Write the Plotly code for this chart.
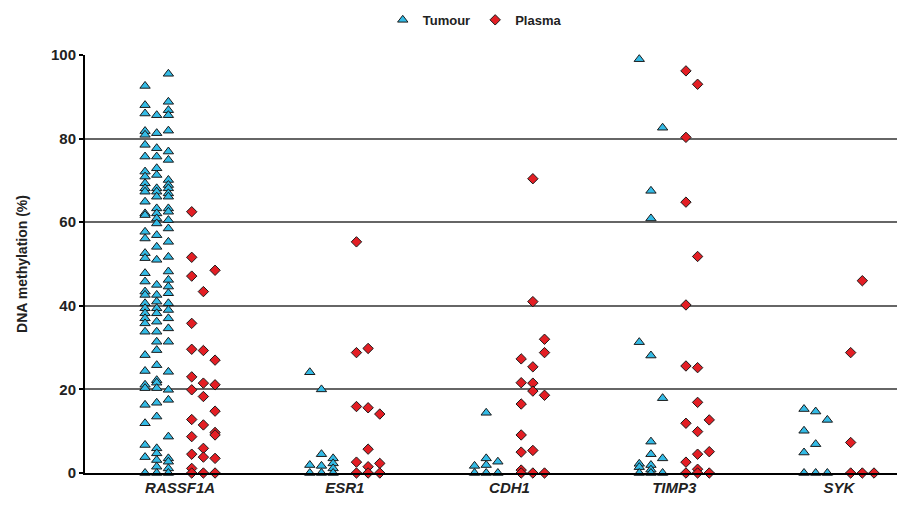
import plotly.graph_objects as go

genes = ["RASSF1A", "ESR1", "CDH1", "TIMP3", "SYK"]

# Tumour values, three sub-columns per gene
rassf1a_tumour = [
    [92.6, 88.0, 86.0, 81.8, 80.9, 78.5, 75.7, 72.1, 70.9, 69.3, 68.1, 67.3, 64.9, 62.1, 61.7,
     57.7, 56.1, 52.6, 51.4, 47.8, 45.8, 43.4, 42.6, 40.6, 39.4, 38.2, 37.0, 35.8, 33.8, 28.2,
     24.4, 21.1, 20.3, 16.3, 11.9, 6.7, 3.8, 0.0],
    [85.6, 81.3, 77.7, 75.7, 72.9, 71.3, 68.1, 67.3, 66.1, 63.3, 62.1, 60.9, 59.7, 56.9, 54.1,
     51.0, 45.0, 42.6, 41.0, 39.4, 38.2, 36.2, 33.8, 31.4, 29.4, 25.8, 22.2, 21.6, 20.3, 16.8,
     13.5, 5.9, 4.7, 3.1, 1.5, 0.0],
    [95.5, 88.8, 86.8, 85.6, 81.9, 76.9, 74.9, 70.1, 68.9, 68.1, 66.9, 66.1, 63.3, 62.5, 60.5,
     58.5, 55.3, 51.7, 48.2, 46.2, 44.6, 43.0, 40.6, 39.0, 37.0, 34.6, 31.4, 24.2, 19.9, 17.5,
     8.7, 3.5, 2.7, 1.1, 0.0],
]
esr1_tumour = [[24.1, 1.9, 0.0], [20.0, 4.5, 1.7, 0.0], [3.5, 2.3, 1.1, 0.0]]
cdh1_tumour = [[1.7, 0.0], [14.4, 3.5, 1.9, 0.0], [2.7, 0.0]]
timp3_tumour = [[99.0, 31.3, 2.2, 1.4, 0.0], [67.5, 60.9, 28.1, 7.5, 4.5, 1.9, 0.8, 0.0],
                [82.6, 17.9, 3.5, 0.0]]
syk_tumour = [[15.3, 10.1, 4.9, 0.0], [14.7, 6.9, 0.0], [12.7, 0.0]]

# Plasma values, three sub-columns per gene
rassf1a_plasma = [[62.5, 51.6, 47.1, 35.8, 29.6, 23.0, 19.9, 12.8, 8.7, 4.5, 1.1, 0.0],
                  [43.4, 29.3, 21.5, 18.3, 11.5, 5.9, 3.8, 0.0],
                  [48.5, 27.0, 21.1, 14.8, 9.7, 9.1, 3.5, 0.0]]
esr1_plasma = [[55.3, 28.8, 15.9, 2.6, 0.0], [29.8, 15.6, 5.7, 1.5, 0.0], [14.1, 2.3, 0.0]]
cdh1_plasma = [[27.3, 21.6, 16.5, 9.1, 5.0, 0.7, 0.0], [70.4, 41.0, 25.4, 21.5, 19.6, 5.4, 0.0],
               [32.0, 28.8, 18.6, 0.0]]
timp3_plasma = [[96.2, 80.3, 64.8, 40.2, 25.6, 11.9, 2.6, 0.0],
                [93.0, 51.8, 25.2, 16.9, 9.9, 4.5, 0.9, 0.0],
                [12.7, 5.1, 0.0]]
syk_plasma = [[28.8, 7.3, 0.0], [46.0, 0.0], [0.0]]

tumour = [rassf1a_tumour, esr1_tumour, cdh1_tumour, timp3_tumour, syk_tumour]
plasma = [rassf1a_plasma, esr1_plasma, cdh1_plasma, timp3_plasma, syk_plasma]

col_step = 0.0708


def build(series, offsets):
    xs, ys = [], []
    for g, cols in enumerate(series):
        for j, col in enumerate(cols):
            for v in col:
                xs.append(g + offsets[j] * col_step)
                ys.append(v)
    return xs, ys


tx, ty = build(tumour, [-3, -2, -1])
px, py = build(plasma, [1, 2, 3])

fig = go.Figure()
fig.add_trace(go.Scatter(
    x=tx, y=ty, mode="markers", name="Tumour", cliponaxis=False,
    marker=dict(symbol="triangle-up", size=9, color="#33BBE6",
                line=dict(color="#1a1a1a", width=1)),
))
fig.add_trace(go.Scatter(
    x=px, y=py, mode="markers", name="Plasma", cliponaxis=False,
    marker=dict(symbol="diamond", size=8, color="#E31E24",
                line=dict(color="#1a1a1a", width=1)),
))

fig.update_layout(
    width=899, height=508,
    margin=dict(l=85, r=2, t=55, b=35, autoexpand=False),
    paper_bgcolor="white", plot_bgcolor="white",
    font=dict(family="Liberation Sans, Arial, sans-serif", color="#222222"),
    showlegend=True,
    legend=dict(orientation="h", x=0.48, xanchor="center", y=1.084, yanchor="middle",
                font=dict(size=13, color="#222222", weight="bold"),
                itemwidth=30, tracegroupgap=0),
    xaxis=dict(
        range=[-0.577, 4.352], tickvals=list(range(len(genes))),
        ticktext=["<b><i>%s</i></b>" % g for g in genes],
        tickfont=dict(size=15, color="#222222"),
        showgrid=False, zeroline=False, showline=True, linecolor="black", linewidth=2,
        ticks="", fixedrange=True, automargin=False,
    ),
    yaxis=dict(
        range=[0, 100], tickvals=[0, 20, 40, 60, 80, 100],
        tickfont=dict(size=15, color="#222222", weight="bold"),
        title=dict(text="<b>DNA methylation (%)</b>", font=dict(size=14, color="#222222"), standoff=20),
        showgrid=True, gridcolor="#666666", gridwidth=1.5,
        zeroline=False, showline=True, linecolor="black", linewidth=2,
        ticks="outside", ticklen=4, tickwidth=2, tickcolor="black", automargin=False,
    ),
)

fig.write_html("out.html", config={"displayModeBar": False},
               post_script="document.body.style.margin='0';document.body.style.overflow='hidden';")
